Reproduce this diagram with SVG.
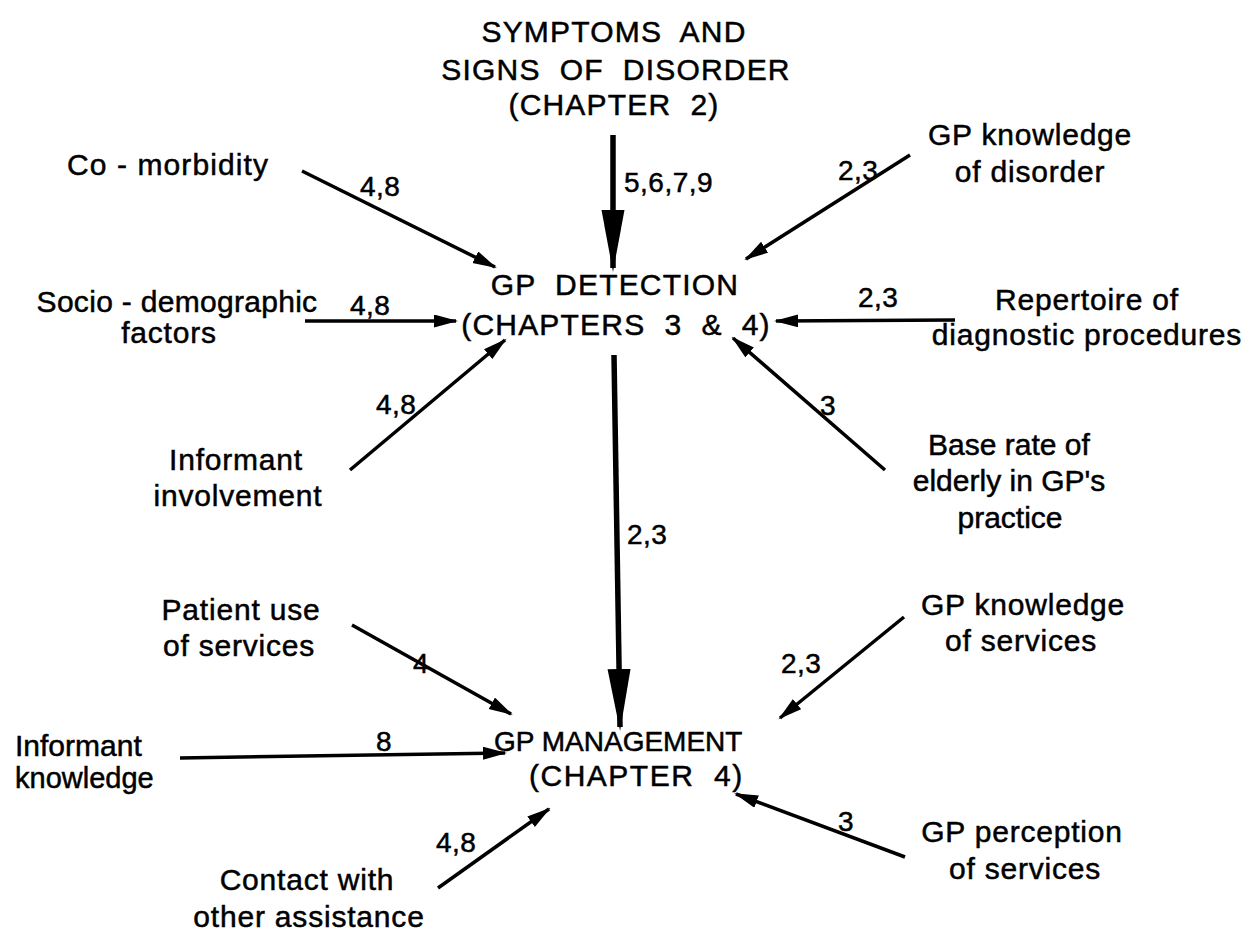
<svg xmlns="http://www.w3.org/2000/svg" width="1249" height="941" viewBox="0 0 1249 941">
<style>
text{font-family:"Liberation Sans",Arial,sans-serif;fill:#000;white-space:pre;stroke:#000;stroke-width:0.5}
.n{font-size:30px;text-anchor:middle;letter-spacing:0.8px}
.h{font-size:30px;text-anchor:middle;letter-spacing:1.2px}
.l{font-size:28px;letter-spacing:0.5px}
.a{stroke:#000;stroke-width:3.5;fill:none}
.b{stroke:#000;stroke-width:5.5;fill:none}
</style>
<defs>
<marker id="sa" markerUnits="userSpaceOnUse" markerWidth="26" markerHeight="14" refX="22" refY="6.5" orient="auto" viewBox="0 0 26 14">
<path d="M0,0 L24,6.5 L0,13 z" fill="#000"/>
</marker>
<marker id="ba" markerUnits="userSpaceOnUse" markerWidth="64" markerHeight="24" refX="58" refY="11.5" orient="auto" viewBox="0 0 64 24">
<path d="M0,0 L62,11.5 L0,23 z" fill="#000"/>
</marker>
</defs>
<rect width="1249" height="941" fill="#fff"/>
<g id="symptoms"><text class="h" x="614" y="42">SYMPTOMS  AND</text><text class="h" x="616" y="80">SIGNS  OF  DISORDER</text><text class="h" x="614" y="115">(CHAPTER  2)</text></g>
<g id="detection"><text class="h" x="615" y="295">GP  DETECTION</text><text class="h" x="616" y="335">(CHAPTERS  3  &amp;  4)</text></g>
<g id="management"><text style="font-size:28px" x="494" y="751">GP MANAGEMENT</text><text style="font-size:30px;letter-spacing:1.5px" x="529" y="786">(CHAPTER  4)</text></g>
<g id="comorbidity"><text class="n" x="168" y="175" style="letter-spacing:1.1px">Co - morbidity</text></g>
<g id="gpknowdis"><text class="n" x="1030" y="145">GP knowledge</text><text class="n" x="1030" y="182">of disorder</text></g>
<g id="socio"><text class="n" x="177" y="312" style="letter-spacing:0.3px">Socio - demographic</text><text class="n" x="169" y="343">factors</text></g>
<g id="repertoire"><text class="n" x="1087" y="310">Repertoire of</text><text class="n" x="1087" y="345">diagnostic procedures</text></g>
<g id="involvement"><text class="n" x="236" y="470">Informant</text><text class="n" x="238" y="506">involvement</text></g>
<g id="baserate"><text class="n" x="1009" y="455" style="letter-spacing:0">Base rate of</text><text class="n" x="1009" y="491" style="letter-spacing:0">elderly in GP's</text><text class="n" x="1010" y="528" style="letter-spacing:0">practice</text></g>
<g id="patientuse"><text class="n" x="241" y="620">Patient use</text><text class="n" x="239" y="656">of services</text></g>
<g id="gpknowserv"><text class="n" x="1023" y="615">GP knowledge</text><text class="n" x="1021" y="651">of services</text></g>
<g id="infknow"><text x="15" y="756" style="font-size:30px">Informant</text><text x="15" y="788" style="font-size:29px">knowledge</text></g>
<g id="perception"><text class="n" x="1022" y="842">GP perception</text><text class="n" x="1025" y="879">of services</text></g>
<g id="contact"><text class="n" x="307" y="890">Contact with</text><text class="n" x="309" y="927">other assistance</text></g>
<g id="connectors">
<line class="b" x1="613" y1="135" x2="613" y2="268" marker-end="url(#ba)"/>
<text class="l" x="624" y="192">5,6,7,9</text>
<line class="b" x1="614" y1="355" x2="620" y2="727" marker-end="url(#ba)"/>
<text class="l" x="627" y="544">2,3</text>
<line class="a" x1="302" y1="171" x2="495" y2="267" marker-end="url(#sa)"/>
<text class="l" x="360" y="196">4,8</text>
<line class="a" x1="910" y1="155" x2="746" y2="259" marker-end="url(#sa)"/>
<text class="l" x="838" y="180">2,3</text>
<line class="a" x1="305" y1="321" x2="456" y2="321" marker-end="url(#sa)"/>
<text class="l" x="350" y="315">4,8</text>
<line class="a" x1="955" y1="320" x2="776" y2="321" marker-end="url(#sa)"/>
<text class="l" x="858" y="307">2,3</text>
<line class="a" x1="350" y1="470" x2="505" y2="340" marker-end="url(#sa)"/>
<text class="l" x="376" y="414">4,8</text>
<line class="a" x1="885" y1="470" x2="733" y2="338" marker-end="url(#sa)"/>
<text class="l" x="820" y="415">3</text>
<line class="a" x1="352" y1="625" x2="511" y2="714" marker-end="url(#sa)"/>
<text class="l" x="413" y="673">4</text>
<line class="a" x1="904" y1="617" x2="780" y2="718" marker-end="url(#sa)"/>
<text class="l" x="781" y="673">2,3</text>
<line class="a" x1="180" y1="758" x2="505" y2="753" marker-end="url(#sa)"/>
<text class="l" x="376" y="751">8</text>
<line class="a" x1="905" y1="857" x2="736" y2="794" marker-end="url(#sa)"/>
<text class="l" x="838" y="831">3</text>
<line class="a" x1="438" y1="888" x2="549" y2="809" marker-end="url(#sa)"/>
<text class="l" x="436" y="852">4,8</text>
</g>
</svg>
